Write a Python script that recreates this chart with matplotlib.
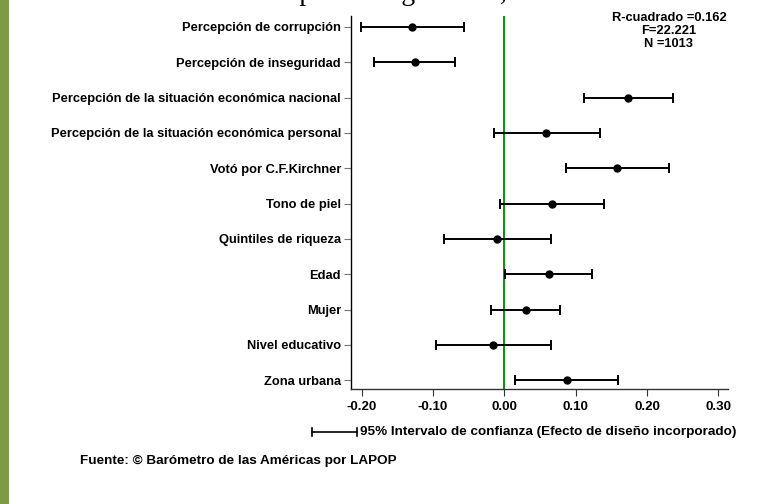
import matplotlib.pyplot as plt
from matplotlib.lines import Line2D
from matplotlib.patches import Rectangle

# coeficientes estandarizados y limites del IC 95%
variables = ['Percepción de corrupción', 'Percepción de inseguridad',
             'Percepción de la situación económica nacional',
             'Percepción de la situación económica personal',
             'Votó por C.F.Kirchner', 'Tono de piel', 'Quintiles de riqueza',
             'Edad', 'Mujer', 'Nivel educativo', 'Zona urbana']
coef = [-0.129, -0.125, 0.174, 0.059, 0.158, 0.067, -0.010, 0.062, 0.030, -0.016, 0.088]
lower = [-0.201, -0.183, 0.112, -0.015, 0.086, -0.006, -0.084, 0.001, -0.019, -0.096, 0.015]
upper = [-0.056, -0.069, 0.236, 0.134, 0.231, 0.140, 0.065, 0.123, 0.078, 0.065, 0.160]
xticks = [-0.2, -0.1, 0.0, 0.1, 0.2, 0.3]
xlabels = ['-0.20', '-0.10', '0.00', '0.10', '0.20', '0.30']

plt.rcParams['font.family'] = ['Liberation Sans', 'DejaVu Sans']
plt.rcParams['font.weight'] = 'bold'

W, H = 769, 504
fig = plt.figure(figsize=(W / 100, H / 100), dpi=100)
ax = fig.add_axes([350.7 / W, 1 - 389 / H, (728 - 350.7) / W, (389 - 16) / H])

ypos = list(range(len(variables)))
err = [[c - l for c, l in zip(coef, lower)], [u - c for c, u in zip(coef, upper)]]
ax.axvline(0, color='#009900', lw=1.4, zorder=1)
ax.errorbar(coef, ypos, xerr=err, fmt='o', color='black', ms=5, elinewidth=1.4,
            capsize=3.5, capthick=1.4, zorder=3)

ax.set_ylim(10.25, -0.31)
ax.set_xlim(-0.2154, 0.3136)
ax.set_yticks(ypos)
ax.set_yticklabels(variables, fontsize=9.3, fontweight='bold')
ax.set_xticks(xticks)
ax.set_xticklabels(xlabels, fontsize=9.5, fontweight='bold')
ax.tick_params(axis='y', length=5, color='#777777', pad=2)
ax.tick_params(axis='x', length=5, color='#333333', pad=4)
for s in ['top', 'right']:
    ax.spines[s].set_visible(False)
ax.spines['left'].set_linewidth(1.0)
ax.spines['bottom'].set_linewidth(1.0)
ax.spines['bottom'].set_color('#333333')

fig.text(669 / W, 1 - 12 / H, 'R-cuadrado =0.162\nF=22.221\nN =1013', ha='center',
         va='top', fontsize=9.3, fontweight='bold', linespacing=1.1)

# leyenda del intervalo
yl = 1 - 432 / H
fig.add_artist(Line2D([312 / W, 357 / W], [yl, yl], color='black', lw=1.2))
for xc in [312, 357]:
    fig.add_artist(Line2D([xc / W, xc / W], [yl - 4 / H, yl + 4 / H], color='black', lw=1.2))
fig.text(360 / W, yl, '95% Intervalo de confianza (Efecto de diseño incorporado)',
         ha='left', va='center', fontsize=9.7, fontweight='bold')

fig.text(80 / W, 1 - 461 / H, 'Fuente: © Barómetro de las Américas por LAPOP',
         ha='left', va='center', fontsize=9.7, fontweight='bold')

# titulo cortado arriba
fig.text(222 / W, 1.0, 'Desempeño del gobierno, 2012', ha='left', va='baseline',
         fontsize=20, fontweight='normal', family='Liberation Serif')

# barra verde lateral
fig.add_artist(Rectangle((0, 0), 9 / W, 1, transform=fig.transFigure,
                         color='#7d9b43', lw=0))

fig.savefig('out.png', dpi=100)
